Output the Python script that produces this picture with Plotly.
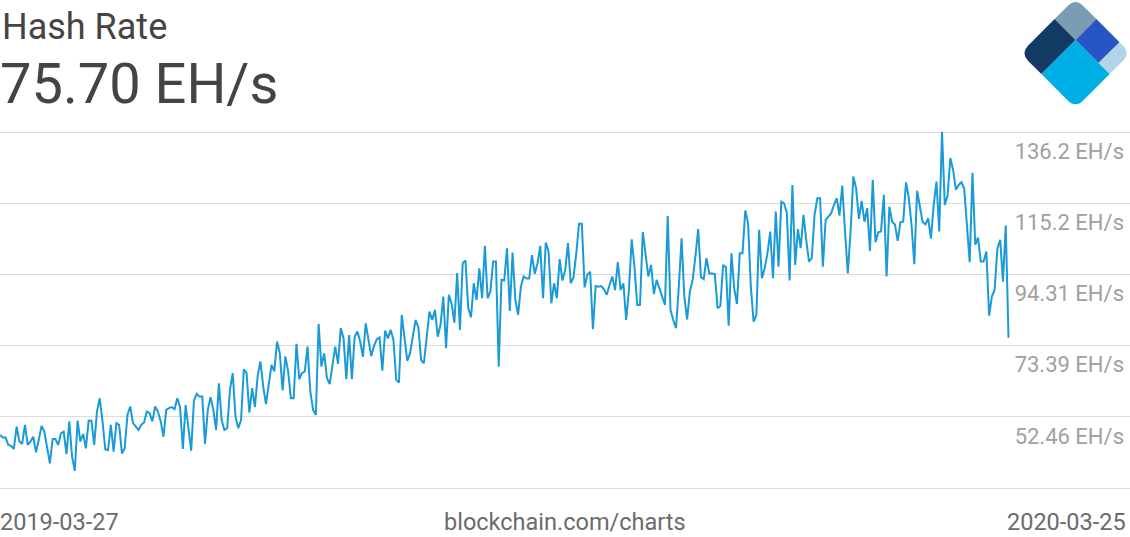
import pandas as pd
import plotly.graph_objects as go

title_text = "Hash Rate"
current_value = "75.70 EH/s"
source_text = "blockchain.com/charts"
start_date = "2019-03-27"

# daily hash rate (EH/s), in six consecutive stretches
hr_apr_may = [47.1, 46.4, 46.4, 44.2, 43.9, 43.0, 49.6, 45.2, 44.5, 50.1, 44.2, 45.2, 46.6, 42.0, 45.7,
              49.8, 48.1, 43.5, 38.8, 45.9, 45.9, 44.2, 47.6, 48.1, 41.5, 51.1, 40.8, 36.6, 51.3, 45.2,
              47.4, 43.2, 51.3, 51.3, 44.2, 54.0, 57.9, 51.1, 42.9, 42.7, 50.1, 42.2, 50.6, 50.1, 41.7,
              43.2, 53.0, 55.5, 50.6, 49.6, 48.6, 50.1, 50.8, 54.0, 53.5, 51.1, 55.5, 54.0, 51.1, 46.6,
              54.5, 55.0]
hr_jun_jul = [55.3, 54.7, 57.9, 55.3, 43.0, 55.9, 48.6, 42.5, 57.2, 59.2, 58.4, 58.4, 44.5, 54.5, 58.2,
              54.5, 48.6, 62.3, 51.5, 48.6, 49.1, 60.4, 65.3, 52.5, 49.1, 51.5, 66.4, 65.3, 53.7, 60.9,
              55.3, 64.5, 68.7, 61.3, 56.2, 62.8, 67.7, 65.8, 74.6, 71.1, 60.2, 70.2, 65.8, 57.9, 57.9,
              73.9, 63.5, 65.3, 65.8, 73.1, 59.9, 54.5, 53.0, 79.8, 67.2, 71.1, 63.8, 62.1, 67.2, 73.1]
hr_aug_sep = [68.0, 78.5, 75.5, 63.5, 76.5, 63.5, 76.0, 77.5, 74.6, 70.1, 79.9, 75.1, 70.3, 73.3, 75.3,
              75.8, 66.0, 77.8, 75.5, 78.0, 75.1, 63.3, 62.5, 82.4, 76.0, 68.9, 71.1, 76.0, 80.9, 78.8,
              69.1, 68.2, 75.1, 83.4, 80.9, 83.9, 76.0, 79.5, 87.8, 72.6, 88.3, 85.8, 80.1, 94.7, 78.0,
              97.6, 98.4, 84.4, 81.7, 91.7, 86.8, 96.1, 87.3, 102.7, 87.3, 89.3, 98.1, 98.1, 67.2]
hr_oct_nov = [92.7, 92.5, 102.0, 83.6, 100.7, 86.8, 82.4, 90.7, 93.7, 93.1, 93.1, 100.0, 94.5, 97.6, 102.7,
              87.3, 103.7, 101.0, 85.8, 91.7, 87.3, 98.8, 92.5, 95.6, 103.5, 91.7, 93.5, 100.5, 109.2, 109.2,
              90.5, 94.2, 95.1, 78.2, 90.9, 90.7, 90.9, 89.9, 88.3, 91.2, 93.7, 89.7, 97.9, 89.7, 91.7,
              80.9, 89.7, 104.6, 96.6, 85.3, 85.3, 106.7, 100.0, 93.7, 97.1, 88.5, 92.7, 90.2, 87.8, 85.3]
hr_dec_jan = [111.5, 83.9, 80.9, 78.5, 90.7, 104.9, 87.8, 81.1, 89.3, 92.7, 99.6, 107.6, 93.5, 92.9, 99.1,
              94.6, 94.6, 94.4, 84.4, 85.0, 97.1, 96.4, 79.2, 100.5, 90.2, 85.6, 100.5, 100.5, 113.1, 109.4,
              90.7, 80.4, 82.4, 107.4, 93.2, 96.1, 100.5, 106.9, 93.2, 112.8, 96.6, 115.7, 115.2, 112.3, 92.5,
              120.6, 97.1, 107.6, 102.0, 111.8, 104.4, 98.1, 99.1, 111.8, 116.7, 116.7, 96.6, 110.3, 111.3]
hr_feb_mar = [112.3, 114.7, 116.7, 111.6, 120.4, 106.9, 94.6, 106.9, 123.1, 119.6, 110.6, 115.9, 109.8, 113.8,
              101.2, 122.1, 103.8, 106.7, 106.9, 117.7, 93.7, 114.2, 109.8, 109.0, 104.2, 109.7, 109.8, 121.4,
              116.9, 108.9, 97.3, 118.9, 113.8, 109.7, 109.0, 110.8, 104.8, 114.7, 121.6, 106.9, 136.2, 114.7,
              117.5, 128.5, 125.0, 119.2, 120.6, 121.4, 119.6, 108.9, 97.9, 124.2, 103.0, 105.1, 98.1, 98.1,
              101.0, 82.2, 87.8, 89.8, 102.0, 104.5, 92.2, 108.7, 75.70]

hash_rate = hr_apr_may + hr_jun_jul + hr_aug_sep + hr_oct_nov + hr_dec_jan + hr_feb_mar
dates = pd.date_range(start_date, periods=len(hash_rate), freq="D")

tick_values = [31.535, 52.46, 73.385, 94.31, 115.235, 136.16]
tick_labels = ["", "52.46 EH/s", "73.39 EH/s", "94.31 EH/s", "115.2 EH/s", "136.2 EH/s"]

W, H = 1130, 537
GRID_TOP, GRID_BOT = 132, 488
M_T, M_B = 100, 39
PLOT_H = H - M_T - M_B
px_per_unit = (GRID_BOT - GRID_TOP) / (tick_values[-1] - tick_values[0])
y_range = [tick_values[0] - (H - M_B - GRID_BOT) / px_per_unit,
           tick_values[-1] + (GRID_TOP - M_T) / px_per_unit]
x_end = dates[0] + pd.Timedelta(days=(len(hash_rate) - 1) * 1130 / 1008.5)


def px(x):
    return x / W


def py(y):
    return (H - M_B - y) / PLOT_H


fig = go.Figure()
fig.add_trace(go.Scatter(x=dates, y=hash_rate, mode="lines",
                         line=dict(color="#1a9ad6", width=2), hoverinfo="x+y"))

font_main = "Roboto, 'Open Sans', sans-serif"
fig.update_layout(
    width=W, height=H,
    margin=dict(l=0, r=0, t=M_T, b=M_B, pad=0),
    paper_bgcolor="white", plot_bgcolor="white",
    showlegend=False,
    font=dict(family=font_main),
    xaxis=dict(range=[dates[0], x_end], visible=False, showgrid=False, zeroline=False),
    yaxis=dict(range=y_range, side="right", tickvals=tick_values, ticktext=tick_labels,
               showgrid=True, gridcolor="#dcdcdc", gridwidth=1, zeroline=False, showline=False,
               ticks="", ticklabelposition="inside", ticklabelstandoff=3, ticklabelshift=19,
               tickfont=dict(family=font_main, size=22, color="#a0a0a0")),
)

annots = [
    dict(text=title_text, x=px(0), y=py(27), xanchor="left", yanchor="middle",
         font=dict(size=36, color="#444444")),
    dict(text=current_value, x=px(-2), y=py(84), xanchor="left", yanchor="middle",
         font=dict(size=56, color="#444444")),
    dict(text=dates[0].strftime("%Y-%m-%d"), x=px(-1), y=py(521.5), xanchor="left", yanchor="middle",
         borderpad=0, font=dict(size=23.5, color="#6b6b6b")),
    dict(text=source_text, x=px(565), y=py(521.5), xanchor="center", yanchor="middle",
         borderpad=0, font=dict(size=23.5, color="#6b6b6b")),
    dict(text=dates[-1].strftime("%Y-%m-%d"), x=px(1127), y=py(521.5), xanchor="right", yanchor="middle",
         borderpad=0, font=dict(size=23.5, color="#6b6b6b")),
]
for a in annots:
    fig.add_annotation(xref="paper", yref="paper", showarrow=False, **a)

# logo: rounded diamond split into five tiles
TX, TY, HD = 1075.5, -1.8, 55.0
SPLIT, SPLIT2, R = 0.38, 0.8, 0.14


def uv(u, v):
    return px(TX + (u - v) * HD), py(TY + (u + v) * HD)


def step_toward(c, other):
    return tuple(ci + (R if oi > ci else -R) if oi != ci else ci for ci, oi in zip(c, other))


def tile(u0, u1, v0, v1, rounded=None):
    corners = [(u0, v0), (u1, v0), (u1, v1), (u0, v1)]
    parts = []
    n = len(corners)
    for i, c in enumerate(corners):
        if rounded is not None and c == rounded:
            p1 = step_toward(c, corners[i - 1])
            p2 = step_toward(c, corners[(i + 1) % n])
            a, b = uv(*p1)
            cx, cy = uv(*c)
            d, e = uv(*p2)
            parts.append(("L" if parts else "M") + f"{a},{b}")
            parts.append(f"Q{cx},{cy} {d},{e}")
        else:
            x, y = uv(*c)
            parts.append(("L" if parts else "M") + f"{x},{y}")
    return " ".join(parts) + " Z"


logo_tiles = [
    (tile(0, SPLIT, 0, SPLIT, (0, 0)), "#7b9db4"),
    (tile(0, SPLIT, SPLIT, 1, (0, 1)), "#133a63"),
    (tile(SPLIT, SPLIT2, 0, SPLIT), "#2755c4"),
    (tile(SPLIT2, 1, 0, SPLIT, (1, 0)), "#b2d4e8"),
    (tile(SPLIT, 1, SPLIT, 1, (1, 1)), "#00aee6"),
]
for path, color in logo_tiles:
    fig.add_shape(type="path", path=path, xref="paper", yref="paper",
                  fillcolor=color, line=dict(width=0), layer="above")

fig.write_html("out.html", config={"displayModeBar": False},
               post_script="document.body.style.margin='0';document.body.style.overflow='hidden';")
